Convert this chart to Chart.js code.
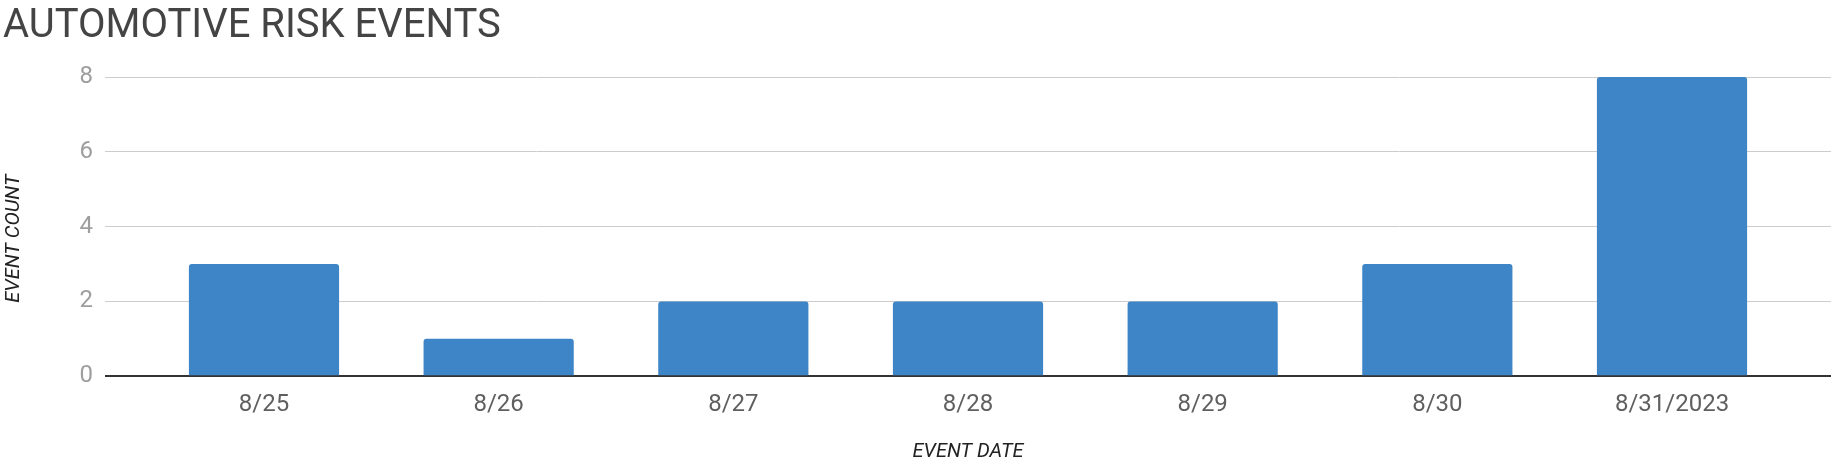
<!DOCTYPE html>
<html>
<head>
<meta charset="utf-8">
<script src="https://cdn.jsdelivr.net/npm/chart.js@4/dist/chart.umd.min.js"></script>
<style>
  html, body { margin: 0; padding: 0; background: #fff; }
  #wrap { width: 1834px; height: 468px; }
</style>
</head>
<body>
<div id="wrap"><canvas id="chart"></canvas></div>
<script>
// Automotive risk events per day
const dates = ['8/25', '8/26', '8/27', '8/28', '8/29', '8/30', '8/31/2023'];
const eventCounts = [3, 1, 2, 2, 2, 3, 8];
const yTicks = [0, 2, 4, 6, 8];

const FONT = 'Roboto, "Noto Sans", sans-serif';
// x runs on a linear index so the plot gets some room past the outer bars
const EDGE = 0.6775;

// y axis title, centred over plot + date labels like the sheets chart
const yTitle = {
  id: 'yTitle',
  afterDraw(chart) {
    const { ctx, chartArea } = chart;
    const cy = (chartArea.top + chartArea.bottom + 24) / 2;
    ctx.save();
    ctx.translate(chart.scales.y.left + 11, cy);
    ctx.rotate(-Math.PI / 2);
    ctx.textAlign = 'center';
    ctx.textBaseline = 'middle';
    ctx.fillStyle = '#222222';
    ctx.font = 'italic 20px ' + FONT;
    ctx.fillText('EVENT COUNT', 0, 0);
    ctx.restore();
  }
};

new Chart(document.getElementById('chart'), {
  type: 'bar',
  data: {
    datasets: [{
      label: 'Event count',
      data: dates.map((d, i) => ({ x: i, y: eventCounts[i] })),
      backgroundColor: '#3d85c6',
      borderRadius: 3,
      categoryPercentage: 0.8,
      barPercentage: 0.8,
    }]
  },
  options: {
    responsive: true,
    maintainAspectRatio: false,
    animation: false,
    layout: { padding: { left: 3, right: 3, top: 0, bottom: 4 } },
    plugins: {
      legend: { display: false },
      tooltip: { enabled: false },
      title: {
        display: true,
        text: 'AUTOMOTIVE RISK EVENTS',
        align: 'start',
        color: '#444444',
        font: { family: FONT, size: 40, weight: 'normal', lineHeight: 1.2 },
        padding: { top: 3, bottom: 26 },
      },
    },
    scales: {
      x: {
        type: 'linear',
        offset: false,
        min: -EDGE,
        max: dates.length - 1 + EDGE,
        grid: { display: false },
        border: { display: false },
        ticks: {
          stepSize: 1,
          includeBounds: false,
          autoSkip: false,
          maxRotation: 0,
          padding: 6,
          color: '#5f5f5f',
          font: { family: FONT, size: 24 },
          callback: v => (Number.isInteger(v) && dates[v] !== undefined) ? dates[v] : '',
        },
        title: {
          display: true,
          text: 'EVENT DATE',
          color: '#222222',
          font: { family: FONT, size: 20, style: 'italic', lineHeight: 1.2 },
          padding: { top: 15, bottom: 0 },
        },
      },
      y: {
        min: 0,
        max: 8,
        border: { display: false },
        grid: {
          drawTicks: false,
          color: c => c.tick && c.tick.value === 0 ? '#333333' : '#cccccc',
          lineWidth: c => c.tick && c.tick.value === 0 ? 2 : 1,
        },
        afterBuildTicks: s => { s.ticks = yTicks.map(v => ({ value: v })); },
        ticks: {
          padding: 12,
          color: '#9e9e9e',
          font: { family: FONT, size: 24 },
        },
        afterFit: s => { s.width = 102; },
      },
    },
  },
  plugins: [yTitle],
});
</script>
</body>
</html>
